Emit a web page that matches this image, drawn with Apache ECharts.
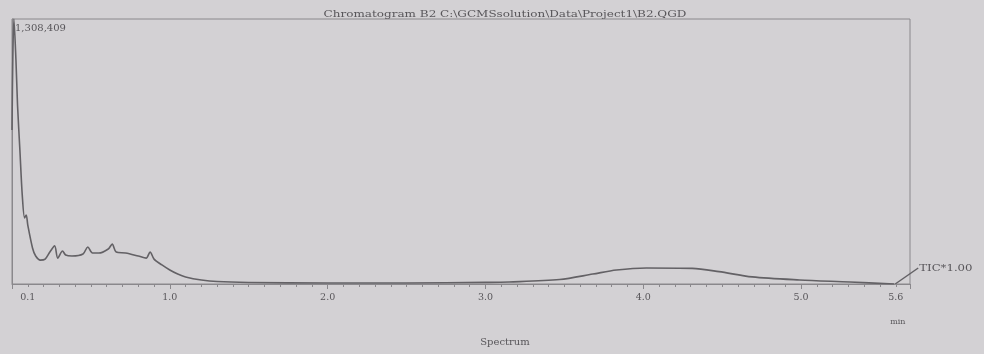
<!DOCTYPE html>
<html>
<head>
<meta charset="utf-8">
<script src="https://cdn.jsdelivr.net/npm/echarts@6/dist/echarts.min.js"></script>
<style>
  html, body { margin: 0; padding: 0; background: #d3d1d4; }
  #chart { width: 984px; height: 354px; }
</style>
</head>
<body>
<div id="chart"></div>
<script>
// Retention time (min) and total ion current intensity
const retentionTimes = [
  0.000, 0.005, 0.012, 0.025, 0.035, 0.050, 0.065, 0.080, 0.090, 0.100,
  0.130, 0.150, 0.180, 0.210, 0.240, 0.270, 0.290, 0.320, 0.340, 0.380,
  0.450, 0.480, 0.510, 0.550, 0.610, 0.635, 0.660, 0.720, 0.800, 0.850,
  0.875, 0.900, 0.950, 1.000, 1.050, 1.100, 1.200, 1.300, 1.500, 2.000,
  2.500, 3.000, 3.150, 3.470, 3.680, 3.830, 4.020, 4.310, 4.480, 4.690,
  4.990, 5.310, 5.590
];
const ticIntensity = [
  760000, 1106000, 1308409, 1106000, 884000, 662000, 439000, 326000, 341000, 291000,
  178000, 138000, 118000, 123000, 158000, 188000, 128000, 163000, 143000, 138000,
  148000, 183000, 153000, 153000, 173000, 197000, 158000, 153000, 138000, 128000,
  158000, 123000, 94000, 69000, 49000, 35000, 20000, 12000, 7500, 5000,
  5000, 8000, 10000, 22000, 49000, 69000, 79000, 77000, 61000, 35000,
  20000, 10000, 0
];
const xLabelValues = [0.1, 1.0, 2.0, 3.0, 4.0, 5.0, 5.6];
const yMax = 1308409;
const titleText = 'Chromatogram B2 C:\\GCMSsolution\\Data\\Project1\\B2.QGD';
const traceLabel = 'TIC*1.00';

const serif = '"DejaVu Serif", "Liberation Serif", serif';
const inkColor = '#58565a';
const frameColor = '#8a888c';

const chart = echarts.init(document.getElementById('chart'));

const points = retentionTimes.map((t, i) => [t, ticIntensity[i]]);

chart.setOption({
  backgroundColor: '#d3d1d4',
  animation: false,
  grid: { left: 12, right: 74, top: 19, bottom: 70, show: true, borderColor: frameColor, borderWidth: 1 },
  xAxis: {
    type: 'value',
    min: 0,
    max: 5.69,
    interval: 1,
    axisLine: { show: true, lineStyle: { color: frameColor, width: 1 } },
    axisTick: { show: true, length: 5, lineStyle: { color: frameColor } },
    minorTick: { show: true, splitNumber: 10, length: 3, lineStyle: { color: frameColor } },
    splitLine: { show: false },
    axisLabel: {
      customValues: xLabelValues,
      formatter: v => v.toFixed(1),
      fontFamily: serif,
      fontSize: 9.5,
      color: inkColor,
      margin: 9
    }
  },
  yAxis: {
    type: 'value',
    min: 0,
    max: yMax,
    axisLine: { show: true, lineStyle: { color: frameColor } },
    axisTick: { show: false },
    splitLine: { show: false },
    axisLabel: {
      customValues: [yMax],
      inside: true,
      verticalAlign: 'top',
      formatter: v => v.toLocaleString('en-US'),
      fontFamily: serif,
      fontSize: 10,
      color: inkColor,
      margin: 3,
      padding: [4, 0, 0, 0]
    }
  },
  series: [{
    type: 'line',
    data: points,
    showSymbol: false,
    smooth: 0.3,
    lineStyle: { color: '#636165', width: 1.6 }
  }]
});

// Trace name with a leader line drawn from the end of the trace
const last = points[points.length - 1];
const endPx = chart.convertToPixel({ gridIndex: 0 }, last);
const labelX = endPx[0] + 24;
const labelY = endPx[1] - 16;
const axisEnd = chart.convertToPixel({ gridIndex: 0 }, [5.6, 0]);

chart.setOption({
  graphic: [
    {
      type: 'text',
      x: 505,
      y: 14,
      scaleX: 1.2,
      style: { text: titleText, fontFamily: serif, fontSize: 10, fill: inkColor, align: 'center', verticalAlign: 'middle' }
    },
    {
      type: 'polyline',
      shape: { points: [[endPx[0] + 1, endPx[1]], [labelX, labelY]] },
      style: { stroke: '#636165', lineWidth: 1.5, fill: null }
    },
    {
      type: 'text',
      x: labelX + 1,
      y: labelY,
      scaleX: 1.17,
      style: { text: traceLabel, fontFamily: serif, fontSize: 10, fill: inkColor, verticalAlign: 'middle' }
    },
    {
      type: 'text',
      x: axisEnd[0] + 2,
      y: axisEnd[1] + 38,
      style: { text: 'min', fontFamily: serif, fontSize: 8, fill: inkColor, align: 'center', verticalAlign: 'middle' }
    },
    {
      type: 'text',
      x: 505,
      y: 342,
      style: { text: 'Spectrum', fontFamily: serif, fontSize: 10, fill: inkColor, align: 'center', verticalAlign: 'middle' }
    }
  ]
});
</script>
</body>
</html>
